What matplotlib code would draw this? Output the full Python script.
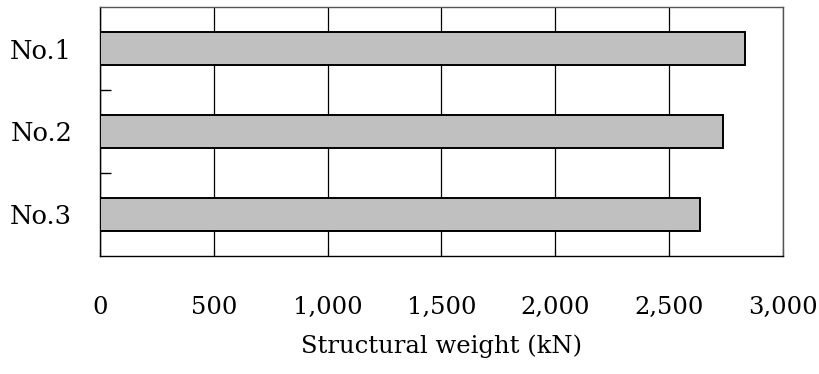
import numpy as np
import matplotlib.pyplot as plt
from matplotlib.ticker import FuncFormatter

# structural weight per model (kN)
models = ['No.1', 'No.2', 'No.3']
weights = [2833, 2735, 2634]
x_ticks = [0, 500, 1000, 1500, 2000, 2500, 3000]

plt.rcParams['font.family'] = ['DejaVu Serif']

fig, ax = plt.subplots(figsize = (8.19, 3.74), dpi = 100)
plt.subplots_adjust(left = 0.122, right = 0.956, top = 0.981, bottom = 0.316)

ind = np.arange(len(models))
ax.barh(ind, weights, 0.4, color = '#c0c0c0', edgecolor = 'black', linewidth = 1.4, zorder = 3)

ax.set_xlim(0, 3000)
ax.set_ylim(len(models) - 0.5, -0.5)

ax.set_xticks(x_ticks)
ax.xaxis.set_major_formatter(FuncFormatter(lambda v, p: '{:,}'.format(int(v))))
ax.grid(axis = 'x', color = 'black', linewidth = 0.9, zorder = 0)
ax.tick_params(axis = 'x', direction = 'in', length = 5, pad = 29, labelsize = 17.5)

ax.set_yticks(ind)
ax.set_yticklabels(models)
ax.set_yticks(ind[:-1] + 0.5, minor = True)
ax.tick_params(axis = 'y', which = 'major', length = 0, pad = 20, labelsize = 18.5)
ax.tick_params(axis = 'y', which = 'minor', direction = 'in', length = 8, width = 1)

for s in ax.spines.values():
    s.set_linewidth(1.0)
    s.set_color('black')
ax.spines['right'].set_color('#555555')
ax.spines['top'].set_color('#555555')

ax.set_xlabel('Structural weight (kN)', fontsize = 17.5, labelpad = 11)

plt.savefig('out.png', dpi = 100)
